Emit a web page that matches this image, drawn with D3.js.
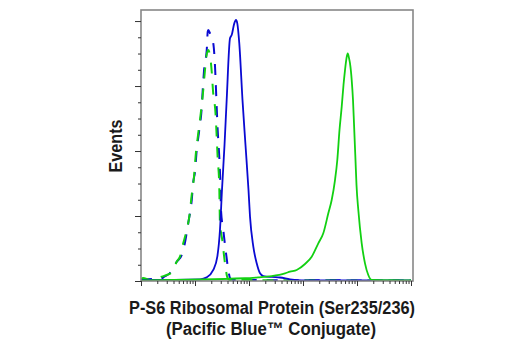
<!DOCTYPE html>
<html><head><meta charset="utf-8">
<script src="https://cdn.jsdelivr.net/npm/d3@7"></script>
<style>html,body{margin:0;padding:0;background:#fff;}svg{display:block;}</style>
</head><body>
<svg id="c" width="520" height="350"></svg>
<script>
// Fluorescence intensity (log scale) vs event counts
const xTickDecades = [1, 10, 100, 1000, 10000, 100000];
const yMajorTicks = [0, 50, 100, 150, 200];
const xTitleLines = ["P-S6 Ribosomal Protein (Ser235/236)", "(Pacific Blue\u2122 Conjugate)"];
const yTitle = "Events";

// blue dashed (isotype / control)
const blueDashed = [[1,0.4],[1.6,1.5],[2.1,0.8],[2.8,3.8],[3.4,5.9],[4.6,14.8],[5.7,20],[6.5,29.2],[7.5,44.6],[8.7,62.3],[9.3,76.4],[10,84.1],[10.7,99.5],[12,116.2],[13.3,133.1],[13.9,146.9],[14.9,164.8],[16.5,177.7],[17.2,191.8],[17.6,193.1],[19,190.5],[21.8,182.8],[23.5,164.8],[24.5,146.9],[25.2,134.1],[26.3,116.2],[27.8,99.5],[29,84.1],[29.6,73],[30.3,54.6],[33.4,39.2],[37.5,21.5],[41.4,8.5],[44.5,2.3],[50.6,0.8],[100000,0.4]];
// green dashed (isotype / treated)
const greenDashed = [[1,1.2],[1.09,2.3],[1.47,0.8],[1.98,1.5],[2.25,2.8],[3,4.6],[3.75,6.9],[4.58,14.8],[5.27,18.7],[6.07,29.2],[7.02,39.2],[7.84,49.5],[8.69,66.2],[9.58,80.2],[10.3,96.9],[11.5,113.8],[12.8,129.2],[14.1,145.4],[15.3,162.3],[16.3,173.1],[17.6,177.7],[19,173.1],[20.4,161],[21.5,146.9],[24.2,126.4],[25.2,111],[26.3,94.4],[28.1,73.8],[29,44.4],[32,31.5],[35.9,13.6],[39.7,2.8],[43.2,0.8],[100000,0.4]];
// blue solid (untreated)
const blueSolid = [[1,0.8],[12.4,1.3],[16.5,2.8],[21.8,8.5],[25.9,18.7],[29,39.2],[31.6,70],[35.2,104.6],[38.6,139.2],[44.5,186.7],[47.8,189.2],[53.4,198.2],[57.4,200.8],[60.7,198.2],[66.1,182.8],[75.8,139.2],[86.1,104.6],[97.9,70],[104.4,49.5],[120.2,26.4],[138.9,13.6],[159.9,5.9],[184.1,3.8],[266.7,3.1],[375,2.7],[574,1.3],[958,0.5],[100000,0.4]];
// green solid (treated)
const greenSolid = [[1,0.4],[84.3,2.1],[148.6,2.8],[263,3.8],[464,5.9],[574,7.2],[764,8.5],[1089,13.1],[1449,18.7],[1920,29],[2376,36.7],[2942,52.1],[3398,62.3],[3914,77.7],[4318,93.1],[4742,116.2],[5212,134.1],[5623,150.8],[5998,162.3],[6397,171.5],[6730,175.1],[7115,171.5],[7420,167.4],[7980,154.6],[8433,139.2],[8796,121.3],[9376,93.1],[9789,73.8],[10574,54.6],[12221,29],[14064,13.6],[16189,4.6],[18711,0.8],[100000,0.4]];

const BLUE = "#0a0ad2", GREEN = "#12d012", FRAME = "#878787";
const svg = d3.select("#c");
const x = d3.scaleLog().domain([1, 100000]).range([141, 411]);
const y = d3.scaleLinear().domain([0, 208.5]).range([281, 10]);
const pl = x.range()[0], pr = x.range()[1] + 2, pt = y.range()[1], pb = y.range()[0];

svg.append("defs").append("clipPath").attr("id","clip")
  .append("rect").attr("x", pl).attr("y", pt).attr("width", pr-pl).attr("height", pb-pt);

const line = d3.line().x(d => x(d[0])).y(d => y(d[1])).curve(d3.curveMonotoneX);
const g = svg.append("g").attr("clip-path","url(#clip)");
const series = [
  {data: blueDashed, color: BLUE, dash: "11,10", w: 2},
  {data: greenDashed, color: GREEN, dash: "11,10", w: 2},
  {data: blueSolid, color: BLUE, dash: null, w: 1.8},
  {data: greenSolid, color: GREEN, dash: null, w: 1.8}
];
series.forEach(s => {
  g.append("path").attr("d", line(s.data)).attr("fill","none")
   .attr("stroke", s.color).attr("stroke-width", s.w)
   .attr("stroke-dasharray", s.dash).attr("stroke-linejoin","round");
});

// frame
svg.append("rect").attr("x", pl).attr("y", pt).attr("width", pr-pl).attr("height", pb-pt)
  .attr("fill","none").attr("stroke", FRAME).attr("stroke-width", 1.6);

// x axis ticks (log, major + minor)
const minor = [];
for (let i = 0; i < xTickDecades.length - 1; i++) for (let m = 2; m <= 9; m++) minor.push(xTickDecades[i]*m);
const xMaj = d3.axisBottom(x).tickValues(xTickDecades).tickSize(5).tickFormat("");
const xMin = d3.axisBottom(x).tickValues(minor).tickSize(3).tickFormat("");
[xMaj, xMin].forEach(a => {
  const ga = svg.append("g").attr("transform", `translate(0,${pb})`).call(a);
  ga.select(".domain").remove();
  ga.selectAll("line").attr("stroke","#333").attr("stroke-width",1);
});
// y axis ticks
const yMinor = d3.range(0, 201, 12.5).filter(v => yMajorTicks.indexOf(v) < 0);
const yMaj = d3.axisLeft(y).tickValues(yMajorTicks).tickSize(6).tickFormat("");
const yMin = d3.axisLeft(y).tickValues(yMinor).tickSize(3).tickFormat("");
[yMaj, yMin].forEach(a => {
  const ga = svg.append("g").attr("transform", `translate(${pl},0)`).call(a);
  ga.select(".domain").remove();
  ga.selectAll("line").attr("stroke","#333").attr("stroke-width",1);
});

const font = "'Liberation Sans Narrow','Arial Narrow','Liberation Sans',Arial,sans-serif";
svg.append("text").attr("x", 272).attr("y", 314).attr("text-anchor","middle")
  .attr("font-family", font).attr("font-weight","bold").attr("font-size",18).attr("fill","#1a1a1a")
  .attr("textLength", 286).attr("lengthAdjust","spacingAndGlyphs").text(xTitleLines[0]);
svg.append("text").attr("x", 271).attr("y", 335).attr("text-anchor","middle")
  .attr("font-family", font).attr("font-weight","bold").attr("font-size",18).attr("fill","#1a1a1a")
  .attr("textLength", 210).attr("lengthAdjust","spacingAndGlyphs").text(xTitleLines[1]);
svg.append("text").attr("transform","translate(122,146) rotate(-90)").attr("text-anchor","middle")
  .attr("font-family", font).attr("font-weight","bold").attr("font-size",18).attr("fill","#1a1a1a")
  .attr("textLength", 53).attr("lengthAdjust","spacingAndGlyphs").text(yTitle);
</script>
</body></html>
